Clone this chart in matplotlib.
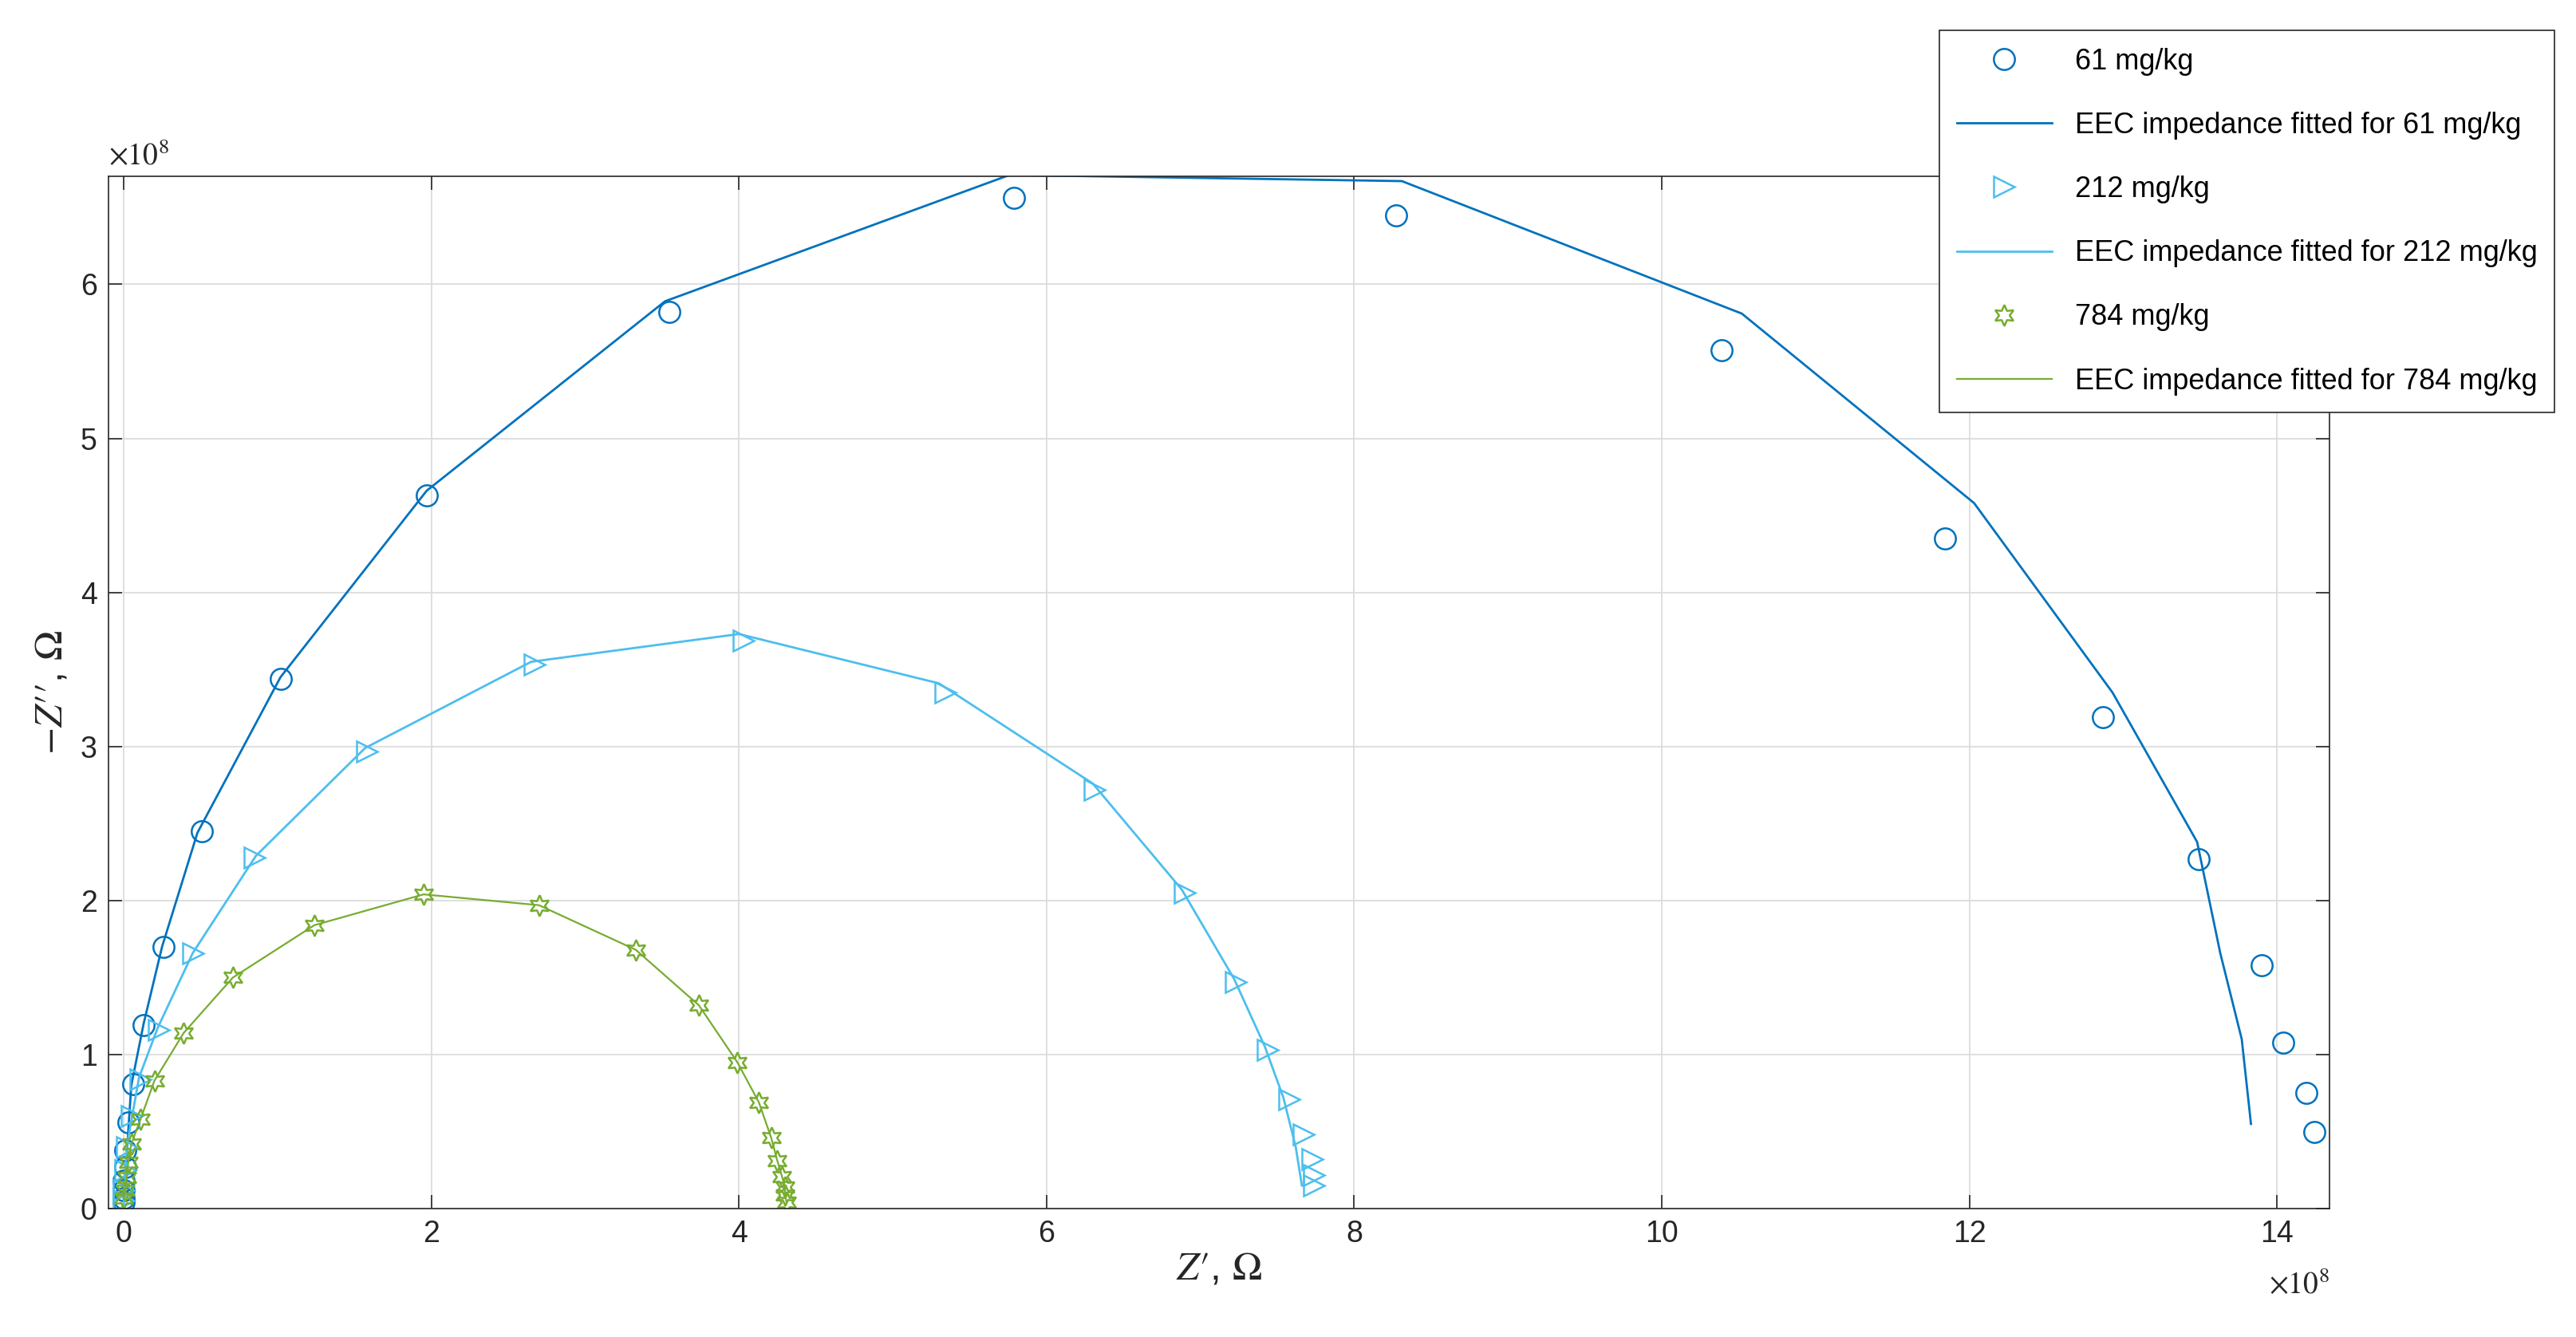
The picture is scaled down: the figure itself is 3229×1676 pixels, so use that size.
import numpy as np
import matplotlib.pyplot as plt

plt.rcParams['font.family'] = ['Liberation Sans', 'DejaVu Sans']
plt.rcParams['mathtext.fontset'] = 'stix'

# values in units of 1e8 Ohm
# 61 mg/kg measured
x61 = [0.0, 0.0, 0.0, 0.0, 0.01, 0.01, 0.03, 0.06, 0.13, 0.26, 0.51, 1.02, 1.97, 3.55, 5.79,
       8.27, 10.39, 11.84, 12.87, 13.49, 13.9, 14.04, 14.19, 14.24]
y61 = [0.04, 0.07, 0.12, 0.18, 0.27, 0.38, 0.56, 0.81, 1.19, 1.70, 2.45, 3.44, 4.63, 5.82, 6.56,
       6.45, 5.57, 4.35, 3.19, 2.27, 1.58, 1.08, 0.75, 0.50]
fx61 = [0.0, 0.02, 0.05, 0.13, 0.25, 0.48, 1.02, 1.97, 3.52, 5.76, 8.31, 10.52, 12.03, 12.93,
        13.48, 13.63, 13.77, 13.83]
fy61 = [0.05, 0.35, 0.8, 1.2, 1.7, 2.44, 3.45, 4.66, 5.89, 6.71, 6.67, 5.81, 4.58, 3.35,
        2.38, 1.66, 1.10, 0.55]
# 212 mg/kg
x212 = [0.0, 0.0, 0.01, 0.02, 0.05, 0.11, 0.23, 0.45, 0.85, 1.58, 2.67, 4.03, 5.34, 6.31, 6.9,
        7.23, 7.44, 7.58, 7.67, 7.73, 7.74, 7.74]
y212 = [0.05, 0.12, 0.25, 0.4, 0.6, 0.84, 1.16, 1.66, 2.28, 2.97, 3.53, 3.69, 3.35, 2.72, 2.05,
        1.47, 1.03, 0.71, 0.48, 0.32, 0.22, 0.15]
fx212 = [0.0, 0.02, 0.1, 0.22, 0.45, 0.86, 1.57, 2.65, 4.0, 5.3, 6.3, 6.88, 7.22, 7.42, 7.54, 7.62, 7.66]
fy212 = [0.0, 0.4, 0.85, 1.17, 1.66, 2.29, 2.99, 3.55, 3.73, 3.41, 2.76, 2.07, 1.49, 1.05, 0.72, 0.4, 0.15]
# 784 mg/kg
x784 = [0.0, 0.01, 0.02, 0.03, 0.05, 0.11, 0.2, 0.39, 0.71, 1.24, 1.95, 2.70, 3.33, 3.74, 3.99,
        4.13, 4.21, 4.25, 4.28, 4.30, 4.30, 4.31]
y784 = [0.07, 0.12, 0.2, 0.3, 0.42, 0.58, 0.83, 1.14, 1.5, 1.84, 2.04, 1.97, 1.68, 1.32, 0.95,
        0.69, 0.46, 0.31, 0.21, 0.14, 0.09, 0.04]

c61, c212, c784 = '#0072BD', '#4DBEEE', '#77AC30'
tc = '#262626'

fig = plt.figure(figsize=(32.3, 16.76), dpi=100)
ax = fig.add_axes([0.042, 0.096, 0.862, 0.772])

ms = 19
ax.plot(x61, y61, 'o', mfc='none', mec=c61, ms=ms, mew=1.8, label='61 mg/kg')
ax.plot(fx61, fy61, '-', color=c61, lw=2, label='EEC impedance fitted for 61 mg/kg')
ax.plot(x212, y212, '>', mfc='none', mec=c212, ms=ms, mew=1.8, label='212 mg/kg')
ax.plot(fx212, fy212, '-', color=c212, lw=2, label='EEC impedance fitted for 212 mg/kg')
ax.plot(x784, y784, ls='none', marker=(6, 1, 0), mfc='none', mec=c784, ms=ms,
        mew=1.8, label='784 mg/kg')
ax.plot(x784, y784, '-', color=c784, lw=1.6, label='EEC impedance fitted for 784 mg/kg')

ax.set_xlim(-0.1, 14.34)
ax.set_ylim(0, 6.7)
ax.set_xticks(np.arange(0, 15, 2))
ax.set_yticks(np.arange(0, 7, 1))
ax.tick_params(direction='in', top=True, right=True, labelsize=27, length=12, width=1.2,
               colors=tc, pad=10)
ax.grid(True, color='#dcdcdc', lw=1.3)
for s in ax.spines.values():
    s.set_color(tc)
    s.set_linewidth(1.2)

ax.text(0.0, 1.005, r'$\times10^{8}$', transform=ax.transAxes, fontsize=27, color=tc,
        ha='left', va='bottom', family='Liberation Sans')
ax.text(1.0, -0.06, r'$\times10^{8}$', transform=ax.transAxes, fontsize=27, color=tc,
        ha='right', va='top')

ax.set_xlabel(r"$Z\prime$, $\Omega$", fontsize=36, color=tc, labelpad=2)
ax.set_ylabel(r"$-Z\prime\prime$, $\Omega$", fontsize=36, color=tc, labelpad=10)

leg = fig.legend(loc='upper right', bbox_to_anchor=(0.997, 0.988), fontsize=26, fancybox=False,
                 edgecolor=tc, framealpha=1, borderpad=0.6, labelspacing=1.25, handlelength=3.3)
leg.get_frame().set_linewidth(1.2)

fig.savefig('out.png', dpi=100)
